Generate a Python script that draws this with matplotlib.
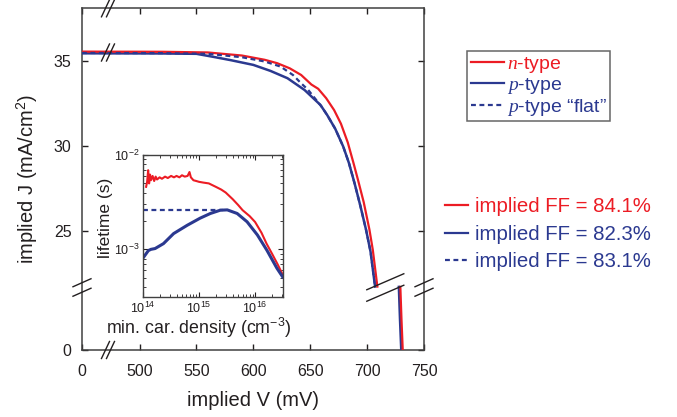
import numpy as np
import matplotlib
matplotlib.use('Agg')
import matplotlib.pyplot as plt

plt.rcParams['font.family'] = ['Liberation Sans', 'DejaVu Sans']
plt.rcParams['mathtext.fontset'] = 'custom'
plt.rcParams['mathtext.rm'] = 'Liberation Sans'
plt.rcParams['mathtext.it'] = 'Liberation Serif:italic'
plt.rcParams['mathtext.default'] = 'regular'

red = '#ec1c24'
blue = '#2b3990'
ink = '#231f20'

# ---- implied J-V data (upper part, above the J break) ----
V_n = [449.4, 520, 560, 590, 610, 621, 632, 642, 651, 657, 664, 671, 677, 683, 688, 692, 697, 702, 705, 709]
J_n = [35.53, 35.52, 35.48, 35.3, 35.05, 34.85, 34.55, 34.16, 33.6, 33.35, 32.8, 32.1, 31.3, 30.2, 29.0, 28.0, 26.7, 25.1, 23.9, 21.75]

V_p = [449.4, 520, 550, 565, 580, 600, 615, 630, 645, 659, 665, 672, 679, 684, 689, 694, 699, 703, 707]
J_p = [35.43, 35.42, 35.4, 35.22, 35.03, 34.75, 34.4, 33.97, 33.28, 32.4, 31.8, 31.0, 29.96, 29.0, 27.8, 26.5, 25.1, 23.8, 21.75]

V_f = [449.4, 520, 560, 590, 610, 624, 635, 642, 648, 654, 660, 665, 672, 679, 684, 689, 694, 699, 703, 707]
J_f = [35.45, 35.44, 35.4, 35.2, 34.95, 34.65, 34.15, 33.67, 33.3, 32.8, 32.3, 31.8, 31.0, 29.96, 29.0, 27.8, 26.5, 25.1, 23.8, 21.75]

# lower part (below the J break), true J values
J_low = [3.7, 1.8, 0.0]
V_low_n = [729.2, 730.2, 731.3]
V_low_p = [727.9, 728.9, 730.0]

# ---- inset: lifetime vs min. carrier density ----
N_n = [1.15e14, 1.2e14, 1.25e14, 1.3e14, 1.35e14, 1.4e14, 1.5e14, 1.6e14, 1.7e14, 1.8e14, 2.0e14,
       2.2e14, 2.5e14, 2.8e14, 3.2e14, 3.6e14, 4.0e14, 4.5e14, 5.0e14, 5.6e14, 6.3e14, 6.8e14,
       7.2e14, 8e14, 9e14, 1.0e15, 1.2e15, 1.5e15, 2e15, 2.5e15, 3e15, 4e15, 5e15, 6e15, 8e15,
       1e16, 1.3e16, 1.6e16, 2e16, 2.5e16, 3.1e16]
tau_n = [4.6, 5.2, 6.9, 5.0, 6.2, 5.4, 6.0, 5.3, 5.9, 5.5, 5.8,
         5.6, 5.9, 5.7, 6.0, 5.8, 6.0, 5.8, 6.1, 5.9, 6.0, 6.6,
         5.8, 5.4, 5.3, 5.2, 5.1, 5.0, 4.6, 4.3, 4.0, 3.4, 2.95, 2.6, 2.25,
         1.95, 1.5, 1.15, 0.9, 0.7, 0.54]

N_p = [1.0e14, 1.26e14, 1.4e14, 1.66e14, 2.34e14, 3.55e14, 6.2e14, 1.05e15, 1.6e15, 2.4e15,
       3.2e15, 4.8e15, 7.2e15, 1.1e16, 1.62e16, 2.45e16, 3.1e16]
tau_p = [0.80, 0.97, 1.0, 1.02, 1.15, 1.47, 1.8, 2.14, 2.4, 2.6,
         2.62, 2.4, 1.96, 1.42, 0.98, 0.63, 0.51]

N_flat = [1.0e14, 2.7e15]
tau_flat = [2.62, 2.62]

ff_labels = ['implied FF = 84.1%', 'implied FF = 82.3%', 'implied FF = 83.1%']

x0 = 449.4   # left edge, shown as "0"
y0 = 18.03   # bottom edge, shown as "0"

fig = plt.figure(figsize=(6.77, 4.17), dpi=100)
ax = fig.add_axes([0.1211, 0.1607, 0.5052, 0.8194])

ax.plot(V_p, J_p, color=blue, lw=1.8, zorder=3)
ax.plot(V_n, J_n, color=red, lw=1.6, zorder=4)
ax.plot(V_f, J_f, color=blue, lw=1.6, ls=(0, (2.2, 1.6)), zorder=5)
ax.plot(V_low_p, np.array(J_low) + y0, color=blue, lw=1.8, zorder=3)
ax.plot(V_low_n, np.array(J_low) + y0, color=red, lw=1.6, zorder=4)

ax.set_xlim(x0, 750)
ax.set_ylim(y0, 38.07)
ax.set_xticks([x0, 500, 550, 600, 650, 700, 750])
ax.set_xticklabels(['0', '500', '550', '600', '650', '700', '750'])
ax.set_yticks([y0, 25, 30, 35])
ax.set_yticklabels(['0', '25', '30', '35'])
ax.tick_params(direction='in', top=True, right=True, length=4, width=1,
               labelsize=11.5, colors=ink)
ax.tick_params(axis='x', pad=10)
ax.tick_params(axis='y', pad=7.5)
for s in ax.spines.values():
    s.set_linewidth(1.1)
    s.set_color('#404040')
ax.set_xlabel('implied V (mV)', fontsize=14.5, color=ink, labelpad=9)
ax.set_ylabel('implied J (mA/cm$^2$)', fontsize=14.5, color=ink, labelpad=10)

# break marks (pixel offsets converted to axes fraction)
W, H = 342.0, 341.7
def brk(xf, yf, dx, dy, sep, horiz=False):
    for k in (-0.5, 0.5):
        if horiz:
            cx, cy = xf, yf + k * sep / H
        else:
            cx, cy = xf + k * sep / W, yf
        ax.plot([cx - dx / W / 2, cx + dx / W / 2], [cy - dy / H / 2, cy + dy / H / 2],
                color=ink, lw=1.0, transform=ax.transAxes, clip_on=False, zorder=6)

xb = (108 - 82) / W
brk(xb, 1.0, 8, 17, 5)
brk(xb, (350 - 52.5) / H, 8, 17, 5)
brk(xb, 0.0, 8, 17, 5)
brk(0.0, (350 - 287.5) / H, 18, 8, 9.5, horiz=True)
brk(1.0, (350 - 287.5) / H, 18, 8, 9.5, horiz=True)
brk((385.3 - 82) / W, (350 - 287.5) / H, 37, 16, 11.5, horiz=True)

# legends
h1 = [plt.Line2D([], [], color=red, lw=1.6),
      plt.Line2D([], [], color=blue, lw=1.6),
      plt.Line2D([], [], color=blue, lw=1.6, ls=(0, (2.2, 1.6)))]
leg1 = fig.legend(h1, ['$\\mathit{n}$-type', '$\\mathit{p}$-type', '$\\mathit{p}$-type \u201cflat\u201d'],
                  loc='upper left', bbox_to_anchor=(466.7 / 677, 1 - 50.7 / 417),
                  fontsize=14, frameon=True, fancybox=False, edgecolor='#404040',
                  handlelength=1.7, handletextpad=0.15, labelspacing=0.05,
                  borderpad=0.2, borderaxespad=0)
leg1.get_frame().set_linewidth(1.1)
for t, c in zip(leg1.get_texts(), [red, blue, blue]):
    t.set_color(c)

h2 = [plt.Line2D([], [], color=red, lw=1.6),
      plt.Line2D([], [], color=blue, lw=1.6),
      plt.Line2D([], [], color=blue, lw=1.6, ls=(0, (2.2, 1.6)))]
leg2 = fig.legend(h2, ff_labels, loc='upper left', bbox_to_anchor=(437 / 677, 1 - 189 / 417),
                  fontsize=14.7, frameon=False, handlelength=1.1, handletextpad=0.35,
                  labelspacing=0.42, borderaxespad=0)
for t, c in zip(leg2.get_texts(), [red, blue, blue]):
    t.set_color(c)

# inset
ins = fig.add_axes([142.7 / 677, 1 - 296.7 / 417, 140 / 677, 141.7 / 417])
ins.plot(N_n, np.array(tau_n) * 1e-3, color=red, lw=1.5)
ins.plot(N_p, np.array(tau_p) * 1e-3, color=blue, lw=2.2)
ins.plot(N_flat, np.array(tau_flat) * 1e-3, color=blue, lw=1.6, ls=(0, (2.2, 1.6)))
ins.set_xscale('log')
ins.set_yscale('log')
ins.set_xlim(1e14, 3.1e16)
ins.set_ylim(3.15e-4, 1e-2)
ins.set_xticks([1e14, 1e15, 1e16])
ins.set_yticks([1e-3, 1e-2])
ins.tick_params(which='both', direction='in', top=True, right=True, colors=ink,
                labelsize=9)
ins.tick_params(axis='x', pad=3)
ins.tick_params(axis='y', pad=2)
ins.tick_params(which='major', length=3.5)
ins.tick_params(which='minor', length=2)
for s in ins.spines.values():
    s.set_linewidth(1.0)
    s.set_color('#404040')
ins.set_xlabel('min. car. density (cm$^{-3}$)', fontsize=12.8, color=ink)
ins.set_ylabel('lifetime (s)', fontsize=12.5, color=ink)
ins.xaxis.set_label_coords(0.40, -0.135)
ins.yaxis.set_label_coords(-0.21, 0.555)

fig.savefig('out.png', dpi=100)
